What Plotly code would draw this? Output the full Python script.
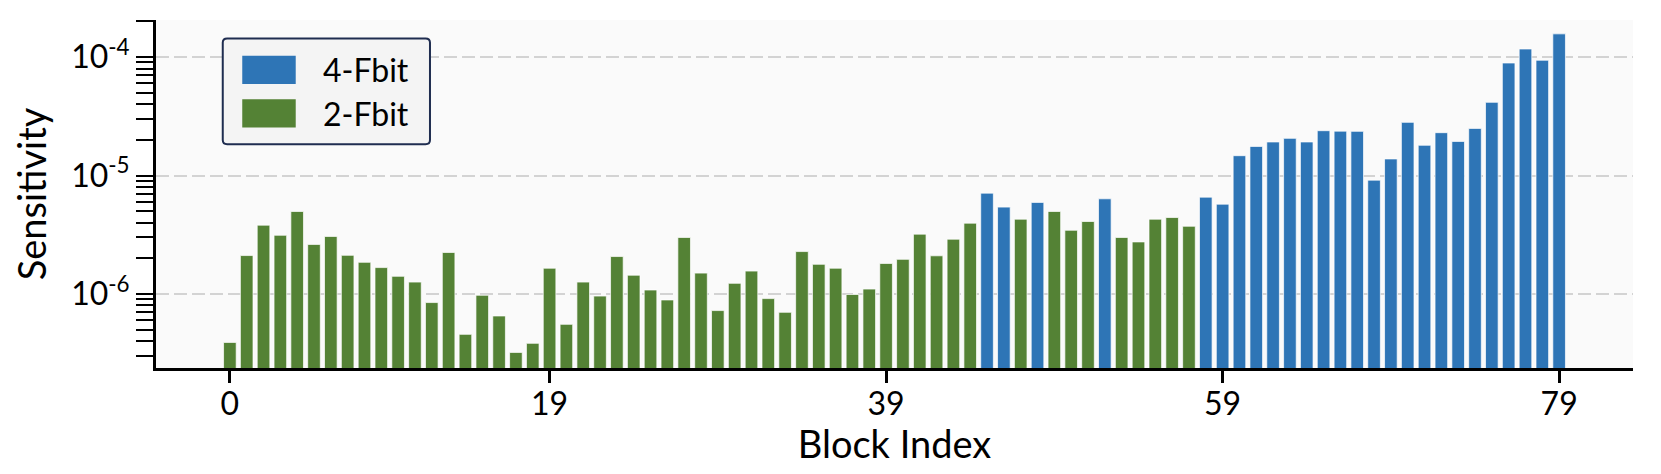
import plotly.graph_objects as go

FONT = "Lato, 'Open Sans', sans-serif"
BLUE = "#2E75B6"
GREEN = "#548235"

# sensitivity per block (0..79)
sensitivity = [
    3.9e-7, 2.11e-6, 3.81e-6, 3.13e-6, 4.97e-6, 2.62e-6, 3.06e-6, 2.12e-6, 1.85e-6, 1.67e-6,
    1.41e-6, 1.26e-6, 8.46e-7, 2.24e-6, 4.56e-7, 9.75e-7, 6.52e-7, 3.21e-7, 3.83e-7, 1.65e-6,
    5.54e-7, 1.26e-6, 9.6e-7, 2.07e-6, 1.44e-6, 1.08e-6, 8.9e-7, 3.0e-6, 1.50e-6, 7.24e-7,
    1.23e-6, 1.56e-6, 9.14e-7, 7.0e-7, 2.28e-6, 1.78e-6, 1.65e-6, 9.9e-7, 1.10e-6, 1.81e-6,
    1.96e-6, 3.2e-6, 2.10e-6, 2.90e-6, 3.96e-6, 7.1e-6, 5.41e-6, 4.28e-6, 5.93e-6, 4.97e-6,
    3.45e-6, 4.09e-6, 6.36e-6, 3.0e-6, 2.75e-6, 4.28e-6, 4.42e-6, 3.73e-6, 6.57e-6, 5.73e-6,
    1.47e-5, 1.76e-5, 1.92e-5, 2.06e-5, 1.92e-5, 2.39e-5, 2.37e-5, 2.36e-5, 9.14e-6, 1.38e-5,
    2.81e-5, 1.80e-5, 2.30e-5, 1.94e-5, 2.50e-5, 4.15e-5, 8.91e-5, 1.17e-4, 9.4e-5, 1.57e-4,
]
# blocks kept at 4 fractional bits; everything else is 2-Fbit
fbit4_blocks = [45, 46, 48, 52] + list(range(58, 80))

x_ticks = [0, 19, 39, 59, 79]
y_ticks = [1e-6, 1e-5, 1e-4]
y_tick_text = ["10<sup>-6</sup>", "10<sup>-5</sup>", "10<sup>-4</sup>"]

blocks = list(range(len(sensitivity)))
x4 = [b for b in blocks if b in fbit4_blocks]
x2 = [b for b in blocks if b not in fbit4_blocks]

series = [("4-Fbit", BLUE, x4), ("2-Fbit", GREEN, x2)]

fig = go.Figure()
for name, colour, xs in series:
    fig.add_trace(go.Bar(
        x=xs, y=[sensitivity[b] for b in xs], name=name,
        marker=dict(color=colour, line=dict(color="rgba(255,255,255,0.7)", width=1)),
        width=0.75, showlegend=False,
    ))


def _rounded_box(x0, x1, y0, y1, rx=0.003, ry=0.012):
    return (f"M{x0 + rx},{y0} L{x1 - rx},{y0} Q{x1},{y0} {x1},{y0 + ry} "
            f"L{x1},{y1 - ry} Q{x1},{y1} {x1 - rx},{y1} "
            f"L{x0 + rx},{y1} Q{x0},{y1} {x0},{y1 - ry} "
            f"L{x0},{y0 + ry} Q{x0},{y0} {x0 + rx},{y0} Z")


# legend drawn by hand so the swatches can be wide rectangles like the original
shapes = [dict(type="path", xref="x domain", yref="y domain",
               path=_rounded_box(0.0452, 0.1855, 0.643, 0.947),
               fillcolor="#f4f4f4", line=dict(color="#1f2d50", width=2), layer="above")]
annotations = []
for i, (name, colour, _) in enumerate(series):
    top = 0.897 - i * 0.125
    shapes.append(dict(type="rect", xref="x domain", yref="y domain",
                       x0=0.0584, x1=0.0946, y0=top - 0.081, y1=top,
                       fillcolor=colour, line=dict(width=0), layer="above"))
    annotations.append(dict(xref="x domain", yref="y domain", x=0.1115, y=top - 0.04,
                            xanchor="left", yanchor="middle", text=name,
                            showarrow=False, font=dict(size=32)))

minor_vals = [m * 10 ** e for e in range(-7, -3) for m in range(2, 10)]

fig.update_layout(
    width=1645, height=458,
    barmode="overlay",
    font=dict(family=FONT, size=32, color="black"),
    plot_bgcolor="#fafafa",
    paper_bgcolor="white",
    margin=dict(l=148, r=20, t=12, b=98),
    shapes=shapes,
    annotations=annotations,
    xaxis=dict(
        range=[-4.39, 83.39],
        tickmode="array", tickvals=x_ticks,
        ticks="outside", ticklen=12, tickwidth=3, tickcolor="black",
        ticklabelstandoff=-6,
        showline=True, linecolor="black", linewidth=3,
        showgrid=False, zeroline=False,
        title=dict(text="Block Index", standoff=2),
    ),
    yaxis=dict(
        type="log", range=[-6.625, -3.687],
        tickmode="array", tickvals=y_ticks, ticktext=y_tick_text,
        ticks="outside", ticklen=17, tickwidth=2, tickcolor="black",
        minor=dict(tickmode="array", tickvals=minor_vals, ticks="outside",
                   ticklen=17, tickwidth=2, tickcolor="black", showgrid=False),
        showline=True, linecolor="black", linewidth=3,
        showgrid=True, gridcolor="#d3d3d3", griddash="13px,5px", gridwidth=2,
        zeroline=False,
        title=dict(text="Sensitivity", standoff=14),
    ),
)

fig.write_html("out.html")
